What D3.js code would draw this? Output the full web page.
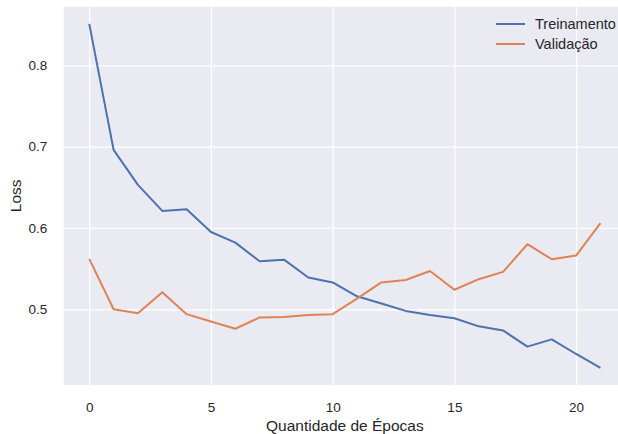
<!DOCTYPE html>
<html>
<head>
<meta charset="utf-8">
<script src="https://cdn.jsdelivr.net/npm/d3@7"></script>
<style>
  body { margin: 0; background: #fff; }
  text { font-family: Arial, "Liberation Sans", sans-serif; fill: #262626; }
</style>
</head>
<body>
<svg id="chart" width="618" height="434"></svg>
<script>
// epochs and loss values
var epochs = d3.range(0, 22);
var treinamento = [0.851, 0.696, 0.653, 0.621, 0.623, 0.595, 0.582, 0.559, 0.561, 0.539, 0.533,
                   0.516, 0.507, 0.498, 0.493, 0.489, 0.479, 0.474, 0.454, 0.463, 0.445, 0.428];
var validacao = [0.562, 0.500, 0.495, 0.521, 0.494, 0.485, 0.476, 0.490, 0.4905, 0.493, 0.494,
                 0.513, 0.533, 0.536, 0.547, 0.524, 0.537, 0.546, 0.580, 0.5615, 0.566, 0.606];
var xTicks = [0, 5, 10, 15, 20];
var yTicks = [0.5, 0.6, 0.7, 0.8];
var seriesNames = ["Treinamento", "Validação"];
var colors = ["#4c72b0", "#dd8452"];

var svg = d3.select("#chart"),
  margin = {top: 6.7, right: -8, bottom: 49, left: 63.7},
  width = +svg.attr("width") - margin.left - margin.right,
  height = +svg.attr("height") - margin.top - margin.bottom,
  g = svg.append("g").attr("transform", "translate(" + margin.left + "," + margin.top + ")");

// matplotlib style 5% padding on both axes
var xExt = d3.extent(epochs), xPad = (xExt[1] - xExt[0]) * 0.05;
var all = treinamento.concat(validacao);
var yExt = d3.extent(all), yPad = (yExt[1] - yExt[0]) * 0.05;

var x = d3.scaleLinear()
  .domain([xExt[0] - xPad, xExt[1] + xPad])
  .range([0, width]);

var y = d3.scaleLinear()
  .domain([yExt[0] - yPad, yExt[1] + yPad])
  .range([height, 0]);

g.append("rect")
  .attr("width", width)
  .attr("height", height)
  .attr("fill", "#eaeaf2");

// gridlines
g.append("g")
  .attr("class", "grid")
  .attr("transform", "translate(0," + height + ")")
  .call(d3.axisBottom(x).tickValues(xTicks).tickSize(-height).tickFormat(""))
  .call(function (s) { s.select(".domain").remove(); });

g.append("g")
  .attr("class", "grid")
  .call(d3.axisLeft(y).tickValues(yTicks).tickSize(-width).tickFormat(""))
  .call(function (s) { s.select(".domain").remove(); });

g.selectAll(".grid line")
  .attr("stroke", "#fff")
  .attr("stroke-width", 1.3);

// tick labels
var xAxis = g.append("g")
  .attr("transform", "translate(0," + height + ")")
  .call(d3.axisBottom(x).tickValues(xTicks).tickSize(0).tickPadding(17).tickFormat(d3.format("d")));
xAxis.select(".domain").remove();

var yAxis = g.append("g")
  .call(d3.axisLeft(y).tickValues(yTicks).tickSize(0).tickPadding(16.5).tickFormat(d3.format(".1f")));
yAxis.select(".domain").remove();

svg.selectAll(".tick text")
  .style("font-size", "13.5px")
  .attr("fill", "#262626");

// lines
var line = d3.line()
  .x(function (d, i) { return x(epochs[i]); })
  .y(function (d) { return y(d); });

[treinamento, validacao].forEach(function (s, i) {
  g.append("path")
    .datum(s)
    .attr("fill", "none")
    .attr("stroke", colors[i])
    .attr("stroke-width", 2)
    .attr("stroke-linejoin", "round")
    .attr("d", line);
});

// axis titles
svg.append("text")
  .attr("x", margin.left + width / 2)
  .attr("y", 431)
  .attr("text-anchor", "middle")
  .style("font-size", "15.5px")
  .text("Quantidade de Épocas");

svg.append("text")
  .attr("transform", "translate(21," + (margin.top + height / 2) + ") rotate(-90)")
  .attr("text-anchor", "middle")
  .style("font-size", "15.5px")
  .text("Loss");

// legend
var legend = svg.append("g");
seriesNames.forEach(function (name, i) {
  var ly = 24 + i * 20;
  legend.append("line")
    .attr("x1", 496).attr("x2", 525)
    .attr("y1", ly).attr("y2", ly)
    .attr("stroke", colors[i])
    .attr("stroke-width", 2);
  legend.append("text")
    .attr("x", 535)
    .attr("y", ly)
    .attr("dy", "0.35em")
    .style("font-size", "14.5px")
    .text(name);
});
</script>
</body>
</html>
